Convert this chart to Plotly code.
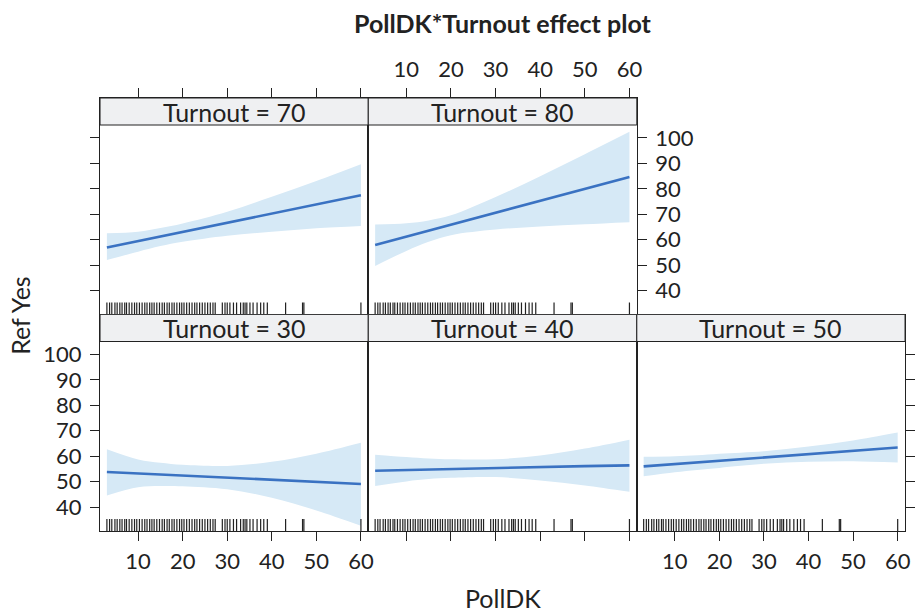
import plotly.graph_objects as go

# ---------------- data ----------------
turnout_levels = [70, 80, 30, 40, 50]
pdk_x = [3, 10, 15, 20, 30, 40, 50, 60]

fit_70 = [56.9, 59.4, 61.2, 63.0, 66.6, 70.3, 73.9, 77.5]
upr_70 = [62.5, 63.1, 64.6, 66.4, 71.0, 76.9, 83.1, 89.7]
lwr_70 = [52.0, 55.3, 57.5, 59.2, 61.6, 63.1, 64.5, 65.4]

fit_80 = [57.9, 61.2, 63.5, 65.9, 70.6, 75.3, 80.0, 84.7]
upr_80 = [66.0, 66.5, 67.6, 69.6, 76.8, 85.0, 93.6, 102.4]
lwr_80 = [49.7, 55.6, 59.2, 61.8, 64.0, 65.2, 66.1, 66.9]

fit_30 = [53.8, 53.2, 52.8, 52.4, 51.6, 50.7, 49.9, 49.1]
upr_30 = [62.7, 58.7, 57.4, 56.6, 56.2, 57.8, 61.0, 65.3]
lwr_30 = [44.6, 47.8, 48.3, 48.2, 47.0, 43.7, 38.7, 32.7]

fit_40 = [54.3, 54.6, 54.8, 54.9, 55.3, 55.7, 56.1, 56.4]
upr_40 = [60.6, 59.7, 59.1, 58.8, 58.8, 60.3, 63.0, 66.5]
lwr_40 = [48.3, 50.1, 51.0, 51.5, 51.8, 50.5, 48.5, 46.0]

fit_50 = [56.0, 56.9, 57.6, 58.2, 59.5, 60.8, 62.1, 63.4]
upr_50 = [59.8, 60.0, 60.4, 61.0, 62.0, 63.8, 66.2, 69.3]
lwr_50 = [52.1, 53.7, 54.6, 55.4, 57.0, 57.8, 58.0, 57.5]

rug_pdk = [3.0, 3.6, 4.1, 4.8, 5.3, 5.9, 6.4, 7.0, 7.4, 8.0, 8.6, 9.2, 9.7, 10.3,
           10.9, 11.5, 12.0, 12.6, 13.1, 13.6, 14.2, 14.8, 15.4, 15.9, 16.5, 17.0,
           17.6, 18.1, 18.7, 19.3, 19.8, 20.3, 20.9, 21.5, 22.1, 22.7, 23.2, 23.8,
           24.4, 25.0, 25.6, 26.2, 26.8, 27.3, 28.9, 29.5, 30.0, 30.6, 31.4, 32.1,
           33.0, 33.6, 34.0, 34.4, 35.1, 35.8, 36.7, 37.5, 38.2, 39.0, 43.1, 46.9,
           47.2, 60.0]

x_ticks = [10, 20, 30, 40, 50, 60]
y_ticks = [40, 50, 60, 70, 80, 90, 100]

series = [(fit_70, upr_70, lwr_70), (fit_80, upr_80, lwr_80), (fit_30, upr_30, lwr_30),
          (fit_40, upr_40, lwr_40), (fit_50, upr_50, lwr_50)]

# ---------------- layout geometry ----------------
W, H = 916, 613
col_px = [(100.7, 370.7), (370.7, 641.0), (641.0, 911.0)]
row_px = [(98.0, 314.5), (314.5, 531.0)]  # top row, bottom row (incl. strip)
strip_px = 27.0
panel_px = 189.5
xlim = [1.46, 61.65]
ylo, yhi = 30.6, 105.1
ytop = yhi + (yhi - ylo) * strip_px / panel_px

pos = [(0, 0), (1, 0), (0, 1), (1, 1), (2, 1)]

LINE = "#3a72c2"
BAND = "rgba(214,233,246,1)"
FRAME = "#222222"
STRIP = "#eff0f2"
FONT = "Lato"
TICK_SIZE = 22
TEXT_SIZE = 25

fig = go.Figure()
layout = dict(width=W, height=H, margin=dict(l=0, r=0, t=0, b=0),
              paper_bgcolor="white", plot_bgcolor="white", showlegend=False,
              font=dict(family=FONT, color=FRAME))

axcfg = [("top", False, "left", False),
         ("top", True, "right", True),
         ("bottom", True, "left", True),
         ("bottom", False, None, False),
         ("bottom", True, "right", False)]

shapes = []
annotations = []
for i, (fit, upr, lwr) in enumerate(series):
    n = "" if i == 0 else str(i + 1)
    xa, ya = "x" + n, "y" + n
    c, r = pos[i]
    x0, x1 = col_px[c]
    y0, y1 = row_px[r]
    xs, xl, ys, yl = axcfg[i]
    layout["xaxis" + n] = dict(
        domain=[x0 / W, x1 / W], anchor=ya, range=xlim, side=xs,
        tickvals=x_ticks, ticks="outside", ticklen=9, tickcolor=FRAME, tickwidth=1,
        showticklabels=xl, tickfont=dict(size=TICK_SIZE, family=FONT, color=FRAME),
        showline=True, linecolor=FRAME, linewidth=1, mirror=True,
        showgrid=False, zeroline=False, ticklabelstandoff=2)
    layout["yaxis" + n] = dict(
        domain=[1 - y1 / H, 1 - y0 / H], anchor=xa, range=[ylo, ytop],
        side=ys if ys else "left",
        tickvals=y_ticks, ticks="outside" if ys else "", ticklen=9,
        tickcolor=FRAME, tickwidth=1,
        showticklabels=yl, tickfont=dict(size=TICK_SIZE, family=FONT, color=FRAME),
        showline=True, linecolor=FRAME, linewidth=1, mirror=True,
        showgrid=False, zeroline=False, ticklabelstandoff=4)

    fig.add_trace(go.Scatter(x=pdk_x, y=lwr, mode="lines", line=dict(width=0, shape="spline"),
                             xaxis=xa, yaxis=ya, hoverinfo="skip"))
    fig.add_trace(go.Scatter(x=pdk_x, y=upr, mode="lines", line=dict(width=0, shape="spline"),
                             fill="tonexty", fillcolor=BAND, xaxis=xa, yaxis=ya,
                             hoverinfo="skip"))
    fig.add_trace(go.Scatter(x=pdk_x, y=fit, mode="lines", line=dict(color=LINE, width=2.6),
                             xaxis=xa, yaxis=ya))
    rug_h = (yhi - ylo) * 12.0 / panel_px
    rx, ry = [], []
    for v in rug_pdk:
        rx += [v, v, None]
        ry += [ylo, ylo + rug_h, None]
    fig.add_trace(go.Scatter(x=rx, y=ry, mode="lines", line=dict(color=FRAME, width=1.2),
                             xaxis=xa, yaxis=ya, hoverinfo="skip"))

    shapes.append(dict(type="rect", xref=xa + " domain", yref=ya, x0=0, x1=1,
                       y0=yhi, y1=ytop, fillcolor=STRIP,
                       line=dict(color=FRAME, width=1), layer="above"))
    annotations.append(dict(text="Turnout = %d" % turnout_levels[i], xref=xa + " domain",
                            yref=ya, x=0.5, y=(yhi + ytop) / 2, showarrow=False,
                            font=dict(size=TEXT_SIZE, family=FONT, color=FRAME),
                            xanchor="center", yanchor="middle"))

cx = (col_px[0][0] + col_px[2][1]) / 2 / W
annotations.append(dict(text="<b>PollDK*Turnout effect plot</b>", xref="paper", yref="paper",
                        x=cx, y=1 - 23 / H, showarrow=False, xanchor="center",
                        yanchor="middle", font=dict(size=TEXT_SIZE, family=FONT, color=FRAME)))
annotations.append(dict(text="PollDK", xref="paper", yref="paper", x=cx, y=1 - 598 / H,
                        showarrow=False, xanchor="center", yanchor="middle",
                        font=dict(size=TEXT_SIZE, family=FONT, color=FRAME)))
annotations.append(dict(text="Ref Yes", xref="paper", yref="paper", x=20 / W, y=1 - 315 / H,
                        showarrow=False, textangle=-90, xanchor="center", yanchor="middle",
                        font=dict(size=TEXT_SIZE, family=FONT, color=FRAME)))

layout["shapes"] = shapes
layout["annotations"] = annotations
fig.update_layout(**layout)
fig.write_html("out.html")
